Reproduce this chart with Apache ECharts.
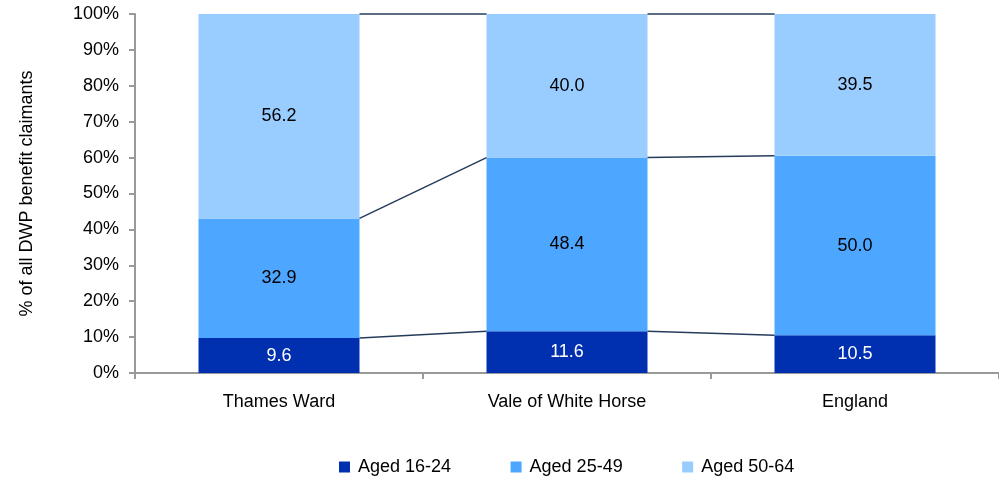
<!DOCTYPE html>
<html><head><meta charset="utf-8">
<script src="https://cdn.jsdelivr.net/npm/echarts@6/dist/echarts.min.js"></script>
<style>html,body{margin:0;padding:0;background:#fff}#c{width:999px;height:482px}</style>
</head><body><div id="c"></div>
<script>
const categories = ['Thames Ward', 'Vale of White Horse', 'England'];
const aged1624 = [9.6, 11.6, 10.5];
const aged2549 = [32.9, 48.4, 50.0];
const aged5064 = [56.2, 40.0, 39.5];
const seriesNames = ['Aged 16-24', 'Aged 25-49', 'Aged 50-64'];
const colors = ['#0030b0', '#4da6ff', '#99ccff'];
const raw = [aged1624, aged2549, aged5064];
const totals = categories.map((c, i) => raw.reduce((s, a) => s + a[i], 0));
const pct = raw.map(a => a.map((v, i) => v / totals[i] * 100));
const cum = [];
for (let k = 0; k < raw.length; k++) {
  cum.push(categories.map((c, i) => pct.slice(0, k + 1).reduce((s, a) => s + a[i], 0)));
}
const BW = 161;
const chart = echarts.init(document.getElementById('c'));
const font = 'Liberation Sans, Arial, sans-serif';
const FS = 18;
const barSeries = raw.map((arr, k) => ({
  name: seriesNames[k], type: 'bar', stack: 'total', barWidth: BW,
  itemStyle: { color: colors[k] },
  data: pct[k].map((v, i) => ({ value: v })),
  label: { show: true, position: 'inside', fontFamily: font, fontSize: FS,
    color: k === 0 ? '#fff' : '#000',
    formatter: p => raw[k][p.dataIndex].toFixed(1) },
  z: 2
}));
const lineData = [];
cum.forEach((arr, k) => { for (let i = 0; i < arr.length - 1; i++) lineData.push([i, arr[i], arr[i + 1]]); });
const lineSeries = {
  type: 'custom', silent: true, z: 3,
  data: lineData,
  encode: { x: 0, y: 1 },
  renderItem: (params, api) => {
    const i = api.value(0);
    const p1 = api.coord([i, api.value(1)]);
    const p2 = api.coord([i + 1, api.value(2)]);
    return { type: 'line', shape: { x1: p1[0] + BW / 2, y1: p1[1], x2: p2[0] - BW / 2, y2: p2[1] },
      style: { stroke: '#243c5c', lineWidth: 1.5 } };
  }
};
chart.setOption({
  animation: false,
  grid: { left: 135, right: 0, top: 14, bottom: 109, containLabel: false },
  legend: { bottom: 1, left: 334, itemWidth: 11, itemHeight: 11, itemGap: 59.5,
    icon: 'rect', textStyle: { fontFamily: font, fontSize: FS, color: '#000', padding: [0, 0, 0, 3] },
    data: seriesNames },
  xAxis: { type: 'category', data: categories,
    axisLine: { lineStyle: { color: '#999', width: 2 } },
    axisTick: { show: true, length: 6, lineStyle: { color: '#999', width: 2 } },
    axisLabel: { fontFamily: font, fontSize: FS, color: '#000', margin: 20 } },
  yAxis: { type: 'value', min: 0, max: 100, interval: 10,
    name: '% of all DWP benefit claimants', nameLocation: 'middle', nameGap: 99,
    nameTextStyle: { fontFamily: font, fontSize: FS, color: '#000' },
    axisLine: { show: true, lineStyle: { color: '#999', width: 2 } },
    axisTick: { show: true, length: 6, lineStyle: { color: '#999', width: 2 } },
    splitLine: { show: false },
    axisLabel: { formatter: '{value}%', fontFamily: font, fontSize: FS, color: '#000', margin: 16 } },
  series: [...barSeries, lineSeries]
});
</script></body></html>
